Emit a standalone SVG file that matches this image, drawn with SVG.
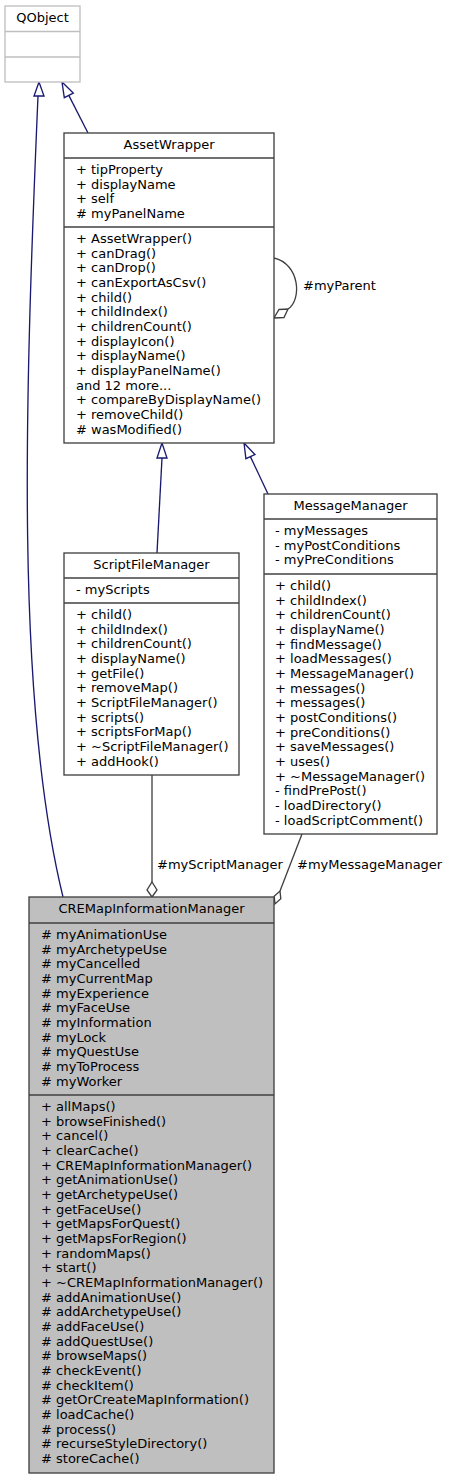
<svg xmlns="http://www.w3.org/2000/svg" width="449" height="1479" viewBox="0 0 449 1479">
<style>
text{font-family:"DejaVu Sans","Liberation Sans",sans-serif;font-size:13px;fill:#000}
.t{text-anchor:middle}
.box{fill:#fff;stroke:#404040;stroke-width:1.33}
.ext{fill:#fff;stroke:#bfbfbf;stroke-width:1.33}
.main{fill:#bfbfbf;stroke:#404040;stroke-width:1.33}
.inh{fill:none;stroke:#191970;stroke-width:1.33}
.inhh{fill:#fff;stroke:#191970;stroke-width:1.33}
.agg{fill:none;stroke:#404040;stroke-width:1.33}
.aggh{fill:#fff;stroke:#404040;stroke-width:1.33}
</style>
<rect width="449" height="1479" fill="#fff"/>
<g id="connectors">
<path class="inh" d="M63,897 C15,700 25,400 38,96"/>
<polygon class="inhh" points="39,82 34,96 44,96"/>
<path class="inh" d="M88,133 L68.8,95.4"/>
<polygon class="inhh" points="62,82 73.3,93.1 64.3,97.7"/>
<path class="inh" d="M157,553 L162,458"/>
<polygon class="inhh" points="162,443 157,458 167,458"/>
<path class="inh" d="M268,494 L250.4,456.6"/>
<polygon class="inhh" points="244,443 254.9,454.5 245.9,458.7"/>
<path class="agg" d="M274,258 C300,264 302,300 288,309"/>
<polygon class="aggh" points="274,318 284,317.5 288,309 279,309.5"/>
<text x="303" y="290">#myParent</text>
<path class="agg" d="M152,775 L152,882"/>
<polygon class="aggh" points="152,882 157,890 152,897 147,890"/>
<text x="157" y="869">#myScriptManager</text>
<path class="agg" d="M302,834 L280,891"/>
<polygon class="aggh" points="280,891 280.8,898.8 275,904 274.2,896.2"/>
<text x="297" y="869">#myMessageManager</text>
</g>
<g id="QObject">
<rect class="ext" x="5" y="6" width="75" height="76"/>
<line class="ext" x1="5" y1="31.5" x2="80" y2="31.5"/>
<line class="ext" x1="5" y1="57" x2="80" y2="57"/>
<text class="t" x="42.5" y="22">QObject</text>
</g>
<g id="AssetWrapper">
<rect class="box" x="64" y="133" width="210" height="310"/>
<line class="box" x1="64" y1="158" x2="274" y2="158"/>
<line class="box" x1="64" y1="227" x2="274" y2="227"/>
<text class="t" x="169" y="149">AssetWrapper</text>
<text x="76" y="174">+ tipProperty</text>
<text x="76" y="188.7">+ displayName</text>
<text x="76" y="203.3">+ self</text>
<text x="76" y="218"># myPanelName</text>
<text x="76" y="243">+ AssetWrapper()</text>
<text x="76" y="257.7">+ canDrag()</text>
<text x="76" y="272.3">+ canDrop()</text>
<text x="76" y="287">+ canExportAsCsv()</text>
<text x="76" y="301.7">+ child()</text>
<text x="76" y="316.3">+ childIndex()</text>
<text x="76" y="331">+ childrenCount()</text>
<text x="76" y="345.7">+ displayIcon()</text>
<text x="76" y="360.3">+ displayName()</text>
<text x="76" y="375">+ displayPanelName()</text>
<text x="76" y="389.7">and 12 more...</text>
<text x="76" y="404.3">+ compareByDisplayName()</text>
<text x="76" y="419">+ removeChild()</text>
<text x="76" y="433.7"># wasModified()</text>
</g>
<g id="ScriptFileManager">
<rect class="box" x="64" y="553" width="175" height="222"/>
<line class="box" x1="64" y1="578" x2="239" y2="578"/>
<line class="box" x1="64" y1="603" x2="239" y2="603"/>
<text class="t" x="151.5" y="569">ScriptFileManager</text>
<text x="76" y="594">- myScripts</text>
<text x="76" y="619">+ child()</text>
<text x="76" y="633.7">+ childIndex()</text>
<text x="76" y="648.3">+ childrenCount()</text>
<text x="76" y="663">+ displayName()</text>
<text x="76" y="677.7">+ getFile()</text>
<text x="76" y="692.3">+ removeMap()</text>
<text x="76" y="707">+ ScriptFileManager()</text>
<text x="76" y="721.7">+ scripts()</text>
<text x="76" y="736.3">+ scriptsForMap()</text>
<text x="76" y="751">+ ~ScriptFileManager()</text>
<text x="76" y="765.7">+ addHook()</text>
</g>
<g id="MessageManager">
<rect class="box" x="264" y="494" width="173" height="340"/>
<line class="box" x1="264" y1="519" x2="437" y2="519"/>
<line class="box" x1="264" y1="574" x2="437" y2="574"/>
<text class="t" x="350.5" y="510">MessageManager</text>
<text x="275" y="535">- myMessages</text>
<text x="275" y="549.7">- myPostConditions</text>
<text x="275" y="564.3">- myPreConditions</text>
<text x="275" y="590">+ child()</text>
<text x="275" y="604.7">+ childIndex()</text>
<text x="275" y="619.3">+ childrenCount()</text>
<text x="275" y="634">+ displayName()</text>
<text x="275" y="648.7">+ findMessage()</text>
<text x="275" y="663.3">+ loadMessages()</text>
<text x="275" y="678">+ MessageManager()</text>
<text x="275" y="692.7">+ messages()</text>
<text x="275" y="707.3">+ messages()</text>
<text x="275" y="722">+ postConditions()</text>
<text x="275" y="736.7">+ preConditions()</text>
<text x="275" y="751.3">+ saveMessages()</text>
<text x="275" y="766">+ uses()</text>
<text x="275" y="780.7">+ ~MessageManager()</text>
<text x="275" y="795.3">- findPrePost()</text>
<text x="275" y="810">- loadDirectory()</text>
<text x="275" y="824.7">- loadScriptComment()</text>
</g>
<g id="CREMapInformationManager">
<rect class="main" x="29" y="897" width="245" height="576"/>
<line class="main" x1="29" y1="923" x2="274" y2="923"/>
<line class="main" x1="29" y1="1095" x2="274" y2="1095"/>
<text class="t" x="151.5" y="913">CREMapInformationManager</text>
<text x="41" y="939"># myAnimationUse</text>
<text x="41" y="953.7"># myArchetypeUse</text>
<text x="41" y="968.3"># myCancelled</text>
<text x="41" y="983"># myCurrentMap</text>
<text x="41" y="997.7"># myExperience</text>
<text x="41" y="1012.3"># myFaceUse</text>
<text x="41" y="1027"># myInformation</text>
<text x="41" y="1041.7"># myLock</text>
<text x="41" y="1056.3"># myQuestUse</text>
<text x="41" y="1071"># myToProcess</text>
<text x="41" y="1085.7"># myWorker</text>
<text x="41" y="1111">+ allMaps()</text>
<text x="41" y="1125.7">+ browseFinished()</text>
<text x="41" y="1140.3">+ cancel()</text>
<text x="41" y="1155">+ clearCache()</text>
<text x="41" y="1169.7">+ CREMapInformationManager()</text>
<text x="41" y="1184.3">+ getAnimationUse()</text>
<text x="41" y="1199">+ getArchetypeUse()</text>
<text x="41" y="1213.7">+ getFaceUse()</text>
<text x="41" y="1228.3">+ getMapsForQuest()</text>
<text x="41" y="1243">+ getMapsForRegion()</text>
<text x="41" y="1257.7">+ randomMaps()</text>
<text x="41" y="1272.3">+ start()</text>
<text x="41" y="1287">+ ~CREMapInformationManager()</text>
<text x="41" y="1301.7"># addAnimationUse()</text>
<text x="41" y="1316.3"># addArchetypeUse()</text>
<text x="41" y="1331"># addFaceUse()</text>
<text x="41" y="1345.7"># addQuestUse()</text>
<text x="41" y="1360.3"># browseMaps()</text>
<text x="41" y="1375"># checkEvent()</text>
<text x="41" y="1389.7"># checkItem()</text>
<text x="41" y="1404.3"># getOrCreateMapInformation()</text>
<text x="41" y="1419"># loadCache()</text>
<text x="41" y="1433.7"># process()</text>
<text x="41" y="1448.3"># recurseStyleDirectory()</text>
<text x="41" y="1463"># storeCache()</text>
</g>
</svg>
